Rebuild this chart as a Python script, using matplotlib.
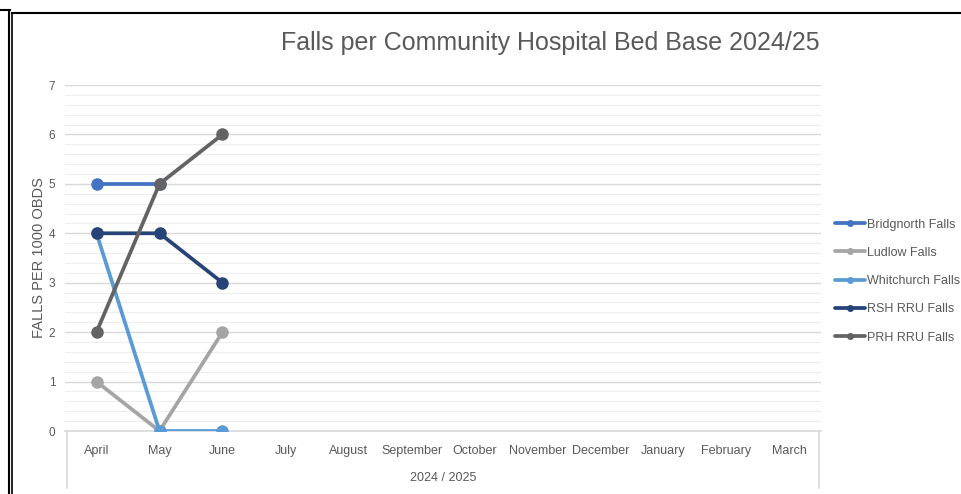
import numpy as np
import matplotlib.pyplot as plt
from matplotlib.lines import Line2D
from matplotlib.ticker import MultipleLocator

# data (Apr-Mar 2024/25)
months = ["April", "May", "June", "July", "August", "September", "October",
          "November", "December", "January", "February", "March"]
nan = np.nan
bridgnorth = [5, 5, nan] + [nan] * 9
ludlow = [1, 0, 2] + [nan] * 9
whitchurch = [4, 0, 0] + [nan] * 9
rsh_rru = [4, 4, 3] + [nan] * 9
prh_rru = [2, 5, 6] + [nan] * 9

series = [
    ("Bridgnorth Falls", bridgnorth, "#4472C4"),
    ("Ludlow Falls", ludlow, "#A5A5A5"),
    ("Whitchurch Falls", whitchurch, "#5B9BD5"),
    ("RSH RRU Falls", rsh_rru, "#264478"),
    ("PRH RRU Falls", prh_rru, "#636363"),
]

fam = ["Liberation Sans", "DejaVu Sans"]
txt = "#595959"

fig = plt.figure(figsize=(9.62, 4.94), dpi=100)
ax = fig.add_axes([65 / 962, 1 - 431 / 494, 756 / 962, 346 / 494])

x = np.arange(len(months))
handles = []
for name, vals, col in series:
    l, = ax.plot(x, vals, color=col, lw=2.7, marker="o", ms=8,
                 label=name, solid_capstyle="round", zorder=3)
    handles.append(l)

ax.set_xlim(-0.5, len(months) - 0.5)
ax.set_ylim(0, 7)
ax.yaxis.set_major_locator(MultipleLocator(1))
ax.yaxis.set_minor_locator(MultipleLocator(0.2))
ax.grid(axis="y", which="major", color="#D9D9D9", lw=1.0)
ax.grid(axis="y", which="minor", color="#EEEEEE", lw=0.8)
ax.set_axisbelow(True)
for s in ["top", "right", "left"]:
    ax.spines[s].set_visible(False)
ax.spines["bottom"].set_color("#D9D9D9")
ax.spines["bottom"].set_linewidth(1.2)

ax.set_xticks(x)
ax.set_xticklabels(months, family=fam, fontsize=9, color=txt)
ax.tick_params(axis="x", length=0, pad=10)
ax.tick_params(axis="y", which="both", length=0, pad=7)
for t in ax.get_yticklabels():
    t.set_family(fam)
    t.set_fontsize(8.5)
    t.set_color(txt)

ax.set_ylabel("FALLS PER 1000 OBDS", family=fam, fontsize=10.5, color=txt)
ax.yaxis.set_label_coords(-0.025, 0.5)

# category box below the axis
for xx in (-0.47, len(months) - 0.53):
    ax.add_line(Line2D([xx, xx], [0, -1.15], color="#D9D9D9", lw=1.2,
                       clip_on=False))
ax.text(5.5, -0.96, "2024 / 2025", ha="center", va="center",
        family=fam, fontsize=9, color=txt)

fig.text(0.572, 0.913, "Falls per Community Hospital Bed Base 2024/25",
         ha="center", va="center", family=fam, fontsize=18, color=txt)

fig.legend(handles=handles, loc="center left",
           bbox_to_anchor=(829 / 962, 1 - 281 / 494), frameon=False,
           prop={"family": fam, "size": 9}, labelcolor=txt,
           handlelength=2.4, handletextpad=0.15, labelspacing=1.3,
           markerscale=0.5, borderpad=0)

# double frame of the screenshot
fig.add_artist(Line2D([0, 10 / 962], [1 - 10 / 494] * 2, color="black",
                      lw=1.5, transform=fig.transFigure))
fig.add_artist(Line2D([9 / 962] * 2, [0, 1 - 10 / 494], color="black",
                      lw=1.5, transform=fig.transFigure))
fig.add_artist(Line2D([12 / 962] * 2, [0, 1 - 13 / 494], color="black",
                      lw=1.2, transform=fig.transFigure))
fig.add_artist(Line2D([12 / 962, 1], [1 - 13 / 494] * 2, color="black",
                      lw=1.5, transform=fig.transFigure))

fig.savefig("out.png", dpi=100)
